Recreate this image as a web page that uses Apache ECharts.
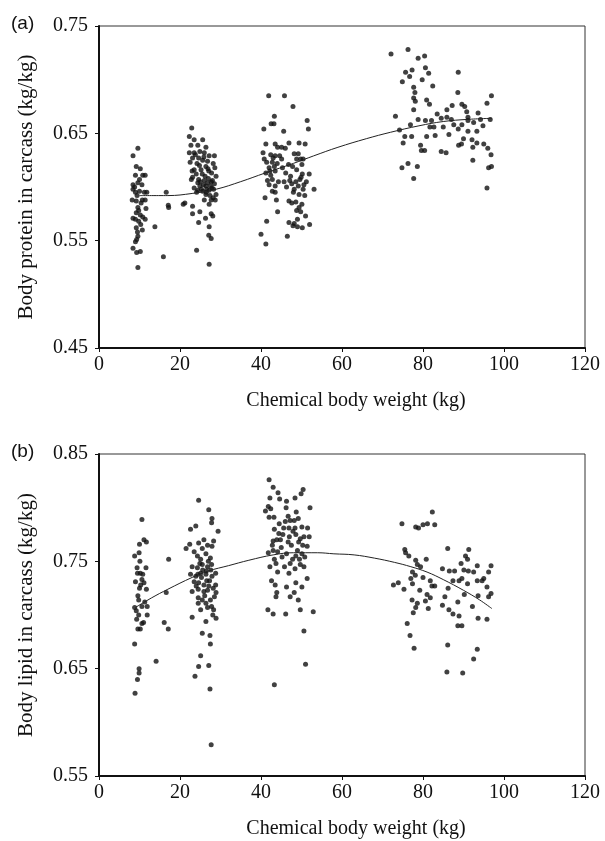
<!DOCTYPE html>
<html>
<head>
<meta charset="utf-8">
<script src="https://cdn.jsdelivr.net/npm/echarts@6/dist/echarts.min.js"></script>
<style>
  html, body { margin: 0; padding: 0; background: #fff; }
  #chart { width: 605px; height: 841px; }
</style>
</head>
<body>
<div id="chart"></div>
<script>
// Chemical body weight (kg) vs body protein in carcass (kg/kg), by weight group
const proteinGroup1 = [[9.6,0.636],[8.4,0.629],[9.2,0.619],[10.2,0.617],[9.0,0.611],[10.8,0.611],[11.4,0.611],[8.4,0.602],[9.6,0.604],[10.6,0.602],[8.4,0.598],[9.0,0.595],[10.0,0.596],[11.2,0.595],[11.8,0.595],[8.2,0.588],[9.2,0.587],[10.7,0.588],[11.4,0.588],[9.6,0.581],[11.6,0.580],[9.2,0.576],[10.2,0.574],[10.8,0.572],[8.4,0.571],[9.0,0.570],[11.4,0.570],[9.8,0.568],[9.2,0.562],[10.7,0.560],[9.6,0.554],[9.0,0.549],[9.3,0.551],[8.4,0.543],[10.2,0.540],[9.3,0.539],[9.6,0.525],[10.0,0.607],[9.4,0.592],[10.4,0.585],[9.8,0.578],[8.8,0.600],[10.3,0.565],[9.5,0.558],[13.8,0.563],[15.9,0.535],[16.6,0.595],[17.1,0.583],[17.2,0.581]];
const proteinGroup2 = [[22.9,0.655],[22.3,0.647],[23.5,0.644],[25.6,0.644],[22.7,0.639],[24.4,0.639],[26.4,0.637],[22.3,0.632],[23.5,0.632],[24.9,0.633],[26.0,0.632],[28.5,0.629],[27.2,0.629],[23.1,0.627],[24.6,0.627],[25.6,0.625],[26.8,0.624],[28.2,0.622],[22.5,0.623],[24.8,0.620],[26.4,0.619],[23.5,0.616],[25.2,0.616],[23.0,0.615],[27.1,0.615],[24.0,0.612],[28.9,0.610],[23.1,0.609],[24.6,0.607],[26.0,0.606],[27.7,0.605],[24.4,0.604],[26.8,0.604],[28.5,0.603],[24.9,0.601],[26.4,0.601],[27.9,0.599],[23.5,0.599],[24.4,0.597],[25.6,0.596],[27.2,0.597],[28.9,0.593],[26.4,0.593],[24.1,0.595],[27.7,0.588],[28.7,0.588],[26.0,0.588],[27.2,0.584],[21.2,0.585],[20.8,0.584],[23.1,0.582],[24.9,0.577],[23.1,0.575],[27.7,0.575],[28.1,0.573],[26.3,0.571],[24.6,0.567],[27.2,0.563],[27.1,0.555],[27.7,0.552],[24.1,0.541],[27.2,0.528],[25.0,0.605],[25.8,0.602],[26.6,0.598],[27.5,0.601],[28.0,0.606],[25.3,0.598],[26.2,0.610],[27.0,0.608],[28.3,0.598],[25.5,0.612],[24.2,0.622],[26.9,0.617],[27.8,0.613],[23.8,0.630],[25.9,0.628],[28.6,0.618],[22.8,0.607],[26.5,0.595],[27.4,0.592],[28.2,0.590]];
const proteinGroup3 = [[41.9,0.685],[45.8,0.685],[47.9,0.675],[43.3,0.666],[42.5,0.659],[43.2,0.659],[40.7,0.654],[45.6,0.652],[51.4,0.662],[51.7,0.654],[41.2,0.640],[43.5,0.640],[44.1,0.637],[46.9,0.641],[49.4,0.641],[50.9,0.640],[45.1,0.637],[46.0,0.636],[40.5,0.632],[42.4,0.630],[43.5,0.629],[44.6,0.629],[48.2,0.631],[49.2,0.631],[49.8,0.626],[50.4,0.626],[40.8,0.626],[41.4,0.623],[42.8,0.623],[45.1,0.626],[48.8,0.626],[42.0,0.618],[43.3,0.619],[46.8,0.621],[47.8,0.619],[50.1,0.621],[48.8,0.616],[41.2,0.613],[42.4,0.611],[43.5,0.615],[46.1,0.613],[50.2,0.612],[51.9,0.612],[42.8,0.607],[44.3,0.605],[45.7,0.605],[47.1,0.606],[48.6,0.605],[49.6,0.607],[51.2,0.605],[47.6,0.603],[42.0,0.602],[43.5,0.601],[49.2,0.601],[50.6,0.602],[53.1,0.598],[42.8,0.596],[43.5,0.595],[48.2,0.598],[50.4,0.598],[49.4,0.593],[41.0,0.590],[43.8,0.588],[46.9,0.587],[48.6,0.586],[47.6,0.585],[50.1,0.584],[49.4,0.581],[48.8,0.578],[44.1,0.577],[49.8,0.577],[51.0,0.573],[49.0,0.570],[46.9,0.567],[41.4,0.568],[48.2,0.566],[47.9,0.564],[49.0,0.563],[50.2,0.562],[52.0,0.565],[40.0,0.556],[46.5,0.554],[41.2,0.547],[42.2,0.615],[44.0,0.622],[47.3,0.610],[48.0,0.595],[50.8,0.592],[49.9,0.609],[43.0,0.627],[41.6,0.606],[45.3,0.618],[46.3,0.600]];
const proteinGroup4 = [[72.1,0.724],[76.3,0.728],[78.8,0.720],[80.4,0.722],[75.7,0.707],[77.3,0.709],[76.7,0.703],[74.9,0.698],[80.6,0.711],[81.4,0.706],[88.7,0.707],[77.7,0.693],[82.4,0.694],[78.0,0.688],[77.7,0.683],[78.1,0.680],[80.9,0.681],[81.6,0.677],[88.6,0.688],[96.9,0.685],[95.8,0.678],[77.7,0.672],[73.2,0.666],[87.2,0.676],[85.9,0.672],[89.6,0.677],[90.3,0.675],[78.8,0.663],[80.6,0.662],[82.1,0.662],[84.5,0.664],[85.9,0.665],[93.6,0.669],[91.1,0.665],[94.2,0.663],[76.9,0.658],[81.7,0.656],[82.7,0.656],[85.0,0.656],[87.6,0.658],[89.6,0.658],[91.1,0.662],[96.6,0.663],[74.2,0.653],[88.7,0.654],[91.1,0.652],[93.3,0.652],[75.5,0.647],[77.2,0.647],[80.9,0.647],[86.4,0.649],[90.0,0.645],[75.1,0.641],[79.4,0.639],[79.6,0.634],[80.4,0.634],[88.8,0.639],[89.5,0.640],[92.1,0.644],[93.3,0.641],[95.0,0.640],[92.3,0.637],[96.0,0.636],[84.5,0.633],[85.7,0.632],[96.8,0.630],[76.3,0.622],[74.8,0.618],[78.6,0.619],[92.3,0.625],[96.2,0.618],[96.9,0.619],[77.7,0.608],[95.8,0.599],[83.5,0.668],[87.0,0.663],[92.5,0.660],[94.8,0.657],[79.8,0.700],[83.0,0.648],[90.8,0.670]];
// fitted response for protein
const proteinCurve = [[10,0.592],[17,0.592],[23,0.594],[29,0.598],[35,0.605],[41,0.613],[48,0.622],[53,0.629],[59,0.637],[66,0.645],[72,0.651],[79,0.657],[85,0.661],[91,0.663],[97,0.664]];

// Chemical body weight (kg) vs body lipid in carcass (kg/kg), by weight group
const lipidGroup1 = [[10.6,0.789],[10.0,0.766],[11.1,0.770],[11.7,0.768],[8.8,0.755],[9.9,0.758],[9.4,0.744],[11.6,0.744],[9.5,0.739],[10.2,0.739],[10.8,0.738],[9.0,0.731],[10.6,0.733],[11.1,0.730],[10.0,0.725],[11.7,0.724],[9.8,0.714],[8.8,0.707],[9.2,0.704],[10.6,0.708],[11.9,0.708],[9.8,0.700],[11.9,0.700],[11.0,0.693],[10.6,0.692],[9.6,0.687],[10.2,0.687],[8.8,0.673],[9.9,0.650],[9.9,0.646],[9.5,0.640],[8.9,0.627],[10.3,0.728],[9.6,0.718],[11.3,0.712],[10.1,0.750],[9.3,0.696],[16.1,0.693],[17.1,0.687],[17.2,0.752],[16.6,0.721],[14.1,0.657]];
const lipidGroup2 = [[24.6,0.807],[27.1,0.798],[27.9,0.790],[27.8,0.786],[22.6,0.780],[23.9,0.783],[29.4,0.778],[21.5,0.762],[22.4,0.766],[23.5,0.759],[24.6,0.767],[25.9,0.770],[26.8,0.765],[27.9,0.764],[28.3,0.769],[25.5,0.762],[24.3,0.755],[25.1,0.752],[26.4,0.757],[27.5,0.753],[23.0,0.745],[24.3,0.744],[25.5,0.747],[26.8,0.745],[27.8,0.747],[22.6,0.738],[23.9,0.736],[25.1,0.739],[26.4,0.738],[27.9,0.736],[28.8,0.739],[23.5,0.731],[24.6,0.730],[25.9,0.728],[27.1,0.727],[28.8,0.728],[23.0,0.722],[24.5,0.724],[25.9,0.722],[26.8,0.723],[28.9,0.721],[24.5,0.716],[25.5,0.714],[27.5,0.714],[24.5,0.711],[26.4,0.711],[27.8,0.708],[28.3,0.705],[25.1,0.705],[26.8,0.707],[28.9,0.697],[28.1,0.700],[23.0,0.698],[26.4,0.694],[25.5,0.683],[27.4,0.681],[27.5,0.673],[25.1,0.662],[24.6,0.652],[27.1,0.653],[23.7,0.643],[27.4,0.631],[27.7,0.579],[25.3,0.735],[26.5,0.741],[27.3,0.732],[25.6,0.742],[28.2,0.725],[24.9,0.748],[27.0,0.750],[24.0,0.727],[28.5,0.717],[26.1,0.718],[26.6,0.732],[27.6,0.742],[24.4,0.738]];
const lipidGroup3 = [[42.0,0.826],[43.0,0.819],[44.2,0.814],[50.4,0.817],[49.9,0.813],[42.2,0.809],[44.6,0.808],[46.3,0.806],[48.4,0.809],[41.8,0.801],[41.1,0.797],[42.4,0.799],[52.1,0.800],[42.0,0.791],[43.2,0.791],[46.2,0.800],[46.7,0.792],[48.7,0.796],[47.2,0.788],[48.2,0.788],[49.2,0.790],[43.3,0.780],[45.6,0.781],[46.9,0.781],[48.4,0.781],[50.1,0.782],[51.5,0.781],[44.4,0.776],[45.4,0.775],[47.0,0.773],[48.6,0.775],[49.7,0.771],[50.6,0.773],[51.9,0.773],[43.0,0.769],[43.9,0.770],[44.8,0.770],[46.7,0.768],[49.3,0.768],[51.4,0.764],[41.8,0.758],[43.0,0.760],[44.1,0.759],[46.3,0.757],[48.6,0.755],[50.1,0.757],[50.8,0.754],[43.3,0.752],[45.2,0.754],[47.8,0.752],[43.7,0.748],[42.2,0.745],[47.2,0.748],[49.7,0.747],[50.6,0.745],[48.4,0.743],[44.1,0.740],[46.9,0.739],[51.4,0.734],[42.6,0.732],[43.5,0.728],[46.3,0.726],[48.6,0.730],[50.1,0.726],[43.9,0.721],[43.7,0.717],[48.2,0.721],[47.2,0.717],[49.2,0.714],[41.7,0.705],[43.0,0.701],[46.1,0.701],[49.7,0.705],[52.9,0.703],[50.6,0.685],[51.0,0.654],[43.3,0.635],[45.0,0.763],[47.5,0.765],[49.0,0.760],[44.5,0.785],[47.9,0.778],[45.8,0.745],[49.5,0.752],[42.8,0.765],[46.0,0.787],[50.3,0.765]];
const lipidGroup4 = [[82.3,0.796],[74.8,0.785],[78.2,0.782],[78.9,0.781],[80.0,0.784],[81.1,0.785],[82.9,0.784],[86.1,0.762],[75.5,0.761],[75.7,0.758],[76.5,0.755],[78.2,0.751],[80.8,0.752],[78.6,0.747],[79.4,0.745],[91.3,0.761],[90.5,0.755],[91.0,0.752],[89.4,0.748],[93.4,0.746],[96.8,0.746],[96.2,0.740],[84.8,0.743],[86.5,0.741],[87.8,0.741],[90.1,0.742],[91.2,0.741],[92.5,0.740],[77.4,0.740],[78.1,0.737],[77.0,0.734],[80.0,0.735],[81.8,0.732],[87.4,0.732],[88.9,0.732],[89.6,0.734],[93.4,0.732],[94.6,0.732],[95.0,0.734],[72.7,0.728],[73.9,0.730],[75.3,0.724],[77.4,0.729],[82.2,0.727],[82.9,0.727],[86.2,0.725],[91.0,0.729],[95.8,0.726],[79.2,0.723],[81.0,0.719],[81.8,0.716],[85.4,0.717],[90.2,0.719],[93.6,0.718],[96.8,0.720],[96.2,0.717],[77.3,0.714],[78.6,0.711],[80.6,0.713],[88.6,0.712],[78.2,0.707],[84.8,0.709],[86.4,0.705],[92.2,0.708],[81.3,0.706],[77.6,0.702],[87.4,0.701],[88.9,0.699],[93.6,0.697],[95.8,0.696],[76.1,0.692],[88.6,0.690],[89.6,0.690],[76.8,0.681],[77.8,0.669],[86.1,0.672],[93.4,0.668],[92.5,0.659],[85.9,0.647],[89.8,0.646]];
// fitted response for lipid
const lipidCurve = [[9,0.707],[13,0.716],[17,0.724],[23,0.735],[27,0.741],[32,0.746],[37,0.751],[43,0.756],[48,0.758],[54,0.758],[58,0.757],[63,0.756],[68,0.753],[73,0.749],[77,0.745],[81,0.740],[85,0.733],[90,0.723],[94,0.714],[97,0.706]];

const xAxisTitle = 'Chemical body weight (kg)';
const proteinTitle = 'Body protein in carcass (kg/kg)';
const lipidTitle = 'Body lipid in carcass (kg/kg)';

const serif = '"Liberation Serif", "Times New Roman", serif';
const sans = '"Liberation Sans", Arial, sans-serif';

const chart = echarts.init(document.getElementById('chart'), null, { renderer: 'canvas' });

const panels = [
  { top: 26, height: 322 },
  { top: 454, height: 322 }
];

function xAxisFor(gridIndex) {
  return {
    type: 'value', gridIndex, min: 0, max: 120, interval: 20,
    name: xAxisTitle, nameLocation: 'middle', nameGap: 43,
    nameTextStyle: { fontFamily: serif, fontSize: 20, color: '#111', padding: [0, 0, 0, 28] },
    axisLine: { onZero: false, lineStyle: { color: '#111', width: 2 } },
    axisTick: { show: true, inside: false, length: 4, lineStyle: { color: '#111', width: 1 } },
    axisLabel: { fontFamily: serif, fontSize: 20, color: '#111', margin: 7 },
    splitLine: { show: false }
  };
}
function yAxisFor(gridIndex, min, max, title) {
  return {
    type: 'value', gridIndex, min, max, interval: 0.1,
    name: title, nameLocation: 'middle', nameGap: 62,
    nameTextStyle: { fontFamily: serif, fontSize: 21, color: '#111' },
    axisLine: { lineStyle: { color: '#111', width: 2 } },
    axisTick: { show: true, inside: false, length: 4, lineStyle: { color: '#111', width: 1 } },
    axisLabel: { fontFamily: serif, fontSize: 20, color: '#111', margin: 11,
      formatter: v => v.toFixed(2) },
    splitLine: { show: false }
  };
}

const dot = { color: '#111' };
function scatter(idx, data) {
  return { type: 'scatter', xAxisIndex: idx, yAxisIndex: idx, data,
    symbol: 'circle', symbolSize: 5, itemStyle: dot, silent: true };
}
function curve(idx, data) {
  return { type: 'line', xAxisIndex: idx, yAxisIndex: idx, data, smooth: 0.4,
    symbol: 'none', lineStyle: { color: '#222', width: 1 }, silent: true, z: 3 };
}

chart.setOption({
  backgroundColor: '#fff',
  animation: false,
  grid: panels.map(p => ({ left: 99, width: 486, top: p.top, height: p.height,
    show: true, borderColor: '#333', borderWidth: 1, backgroundColor: 'transparent' })),
  xAxis: [xAxisFor(0), xAxisFor(1)],
  yAxis: [yAxisFor(0, 0.45, 0.75, proteinTitle), yAxisFor(1, 0.55, 0.85, lipidTitle)],
  graphic: [
    { type: 'text', left: 11, top: 14, style: { text: '(a)', font: '19px ' + sans, fill: '#111' } },
    { type: 'text', left: 11, top: 442, style: { text: '(b)', font: '19px ' + sans, fill: '#111' } }
  ],
  series: [
    scatter(0, proteinGroup1), scatter(0, proteinGroup2), scatter(0, proteinGroup3), scatter(0, proteinGroup4),
    curve(0, proteinCurve),
    scatter(1, lipidGroup1), scatter(1, lipidGroup2), scatter(1, lipidGroup3), scatter(1, lipidGroup4),
    curve(1, lipidCurve)
  ]
});
</script>
</body>
</html>
